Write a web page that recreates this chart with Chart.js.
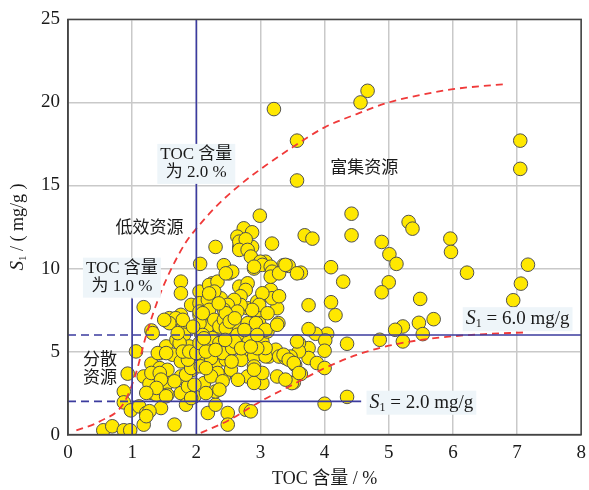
<!DOCTYPE html>
<html>
<head>
<meta charset="utf-8">
<script src="https://cdn.jsdelivr.net/npm/chart.js@4.4.1/dist/chart.umd.min.js"></script>
<style>
  body { margin: 0; background: #fff; }
</style>
</head>
<body>
<canvas id="myChart" width="589" height="490"></canvas>
<script>
// sample values: TOC (%) and S1 (mg/g)
var tocValues = [
  3.21,3.57,3.57,4.56,4.67,7.05,7.05,4.42,4.42,3.69,
  3.81,5.31,5.37,4.89,5.96,5.97,5.01,5.12,4.10,3.63,
  6.22,7.17,7.06,6.94,4.29,5.00,4.89,5.49,4.10,3.75,
  4.17,5.70,5.47,5.22,5.10,5.53,4.86,5.22,4.35,4.04,
  3.86,3.75,4.01,4.00,3.75,3.75,3.60,3.60,3.88,4.00,
  3.63,3.52,4.35,4.00,3.44,
  0.55,0.69,0.87,0.97,0.87,0.87,0.93,0.98,1.06,1.18,
  1.30,1.18,1.11,1.18,1.22,1.30,1.31,1.38,1.27,1.43,
  1.43,1.43,1.45,1.53,1.55,1.55,1.55,1.55,1.63,1.66,
  1.63,1.69,1.76,1.76,1.76,1.79,1.81,1.76,1.76,1.76,
  1.84,1.87,1.89,1.92,1.94,1.97,2.05,2.06,2.07,2.05,
  2.05,2.12,2.18,2.20,2.23,2.25,2.25,2.30,2.30,2.30,
  2.30,2.30,2.38,2.43,2.49,2.49,2.43,2.51,2.54,2.56,
  2.62,2.67,2.67,2.74,2.77,2.80,2.80,2.80,2.82,2.85,
  2.87,2.90,2.90,2.90,2.93,2.95,2.98,3.03,3.03,3.05,
  3.08,3.11,3.13,3.16,3.18,3.18,3.24,3.26,3.28,3.29,
  3.26,3.36,3.39,3.47,3.49,3.57,3.57,3.54,
  2.20,2.33,2.28,2.05,2.18,2.05,2.20,1.58,1.68,2.99,
  2.74,2.87,2.64,2.67,2.77,2.67,2.80,2.85,3.00,3.03,
  2.90,3.16,3.18,3.16,3.29,3.39,3.18,3.29,3.03,2.77,
  2.69,2.56,2.46,2.98,2.87,2.69,2.59,2.49,2.64,2.43,
  1.58,1.50,1.32,1.40,1.53,1.74,1.71,1.79,1.30,1.43,
  1.66,1.45,1.38,1.22,1.53,1.27,1.22,1.84,1.92,1.87,
  1.79,1.89,2.00,2.07,1.97,1.92,2.15,2.05,2.07,2.17,
  2.05,2.28,2.36,2.25,2.36,2.23,2.33,2.23,2.41,2.46,
  2.41,2.43,2.10,
  2.46,2.46,2.64,2.80,2.93,3.08,3.26,3.11,2.56,3.08,
  3.08,3.36,3.44,3.52,2.54,2.90,3.03,2.90,3.39,3.60,
  2.36,
  2.15,2.60,2.70,2.52,2.35,2.60,2.75,2.15,2.55,2.65,
  2.95,2.20,2.10,2.70,1.95,2.30,2.85,2.45,2.12,2.95
];
var s1Values = [
  19.6,17.7,15.3,20.0,20.7,17.7,16.0,13.3,12.0,12.0,
  11.8,12.8,12.4,11.6,11.8,11.0,10.86,10.28,10.08,9.75,
  9.75,10.23,9.09,8.09,9.21,9.17,8.57,8.17,7.97,7.79,
  7.19,6.95,6.73,6.51,6.31,6.05,5.71,5.61,5.47,6.07,
  6.07,6.35,5.67,5.05,5.21,4.61,5.51,5.01,4.31,4.01,
  3.65,3.14,2.27,1.86,10.16,
  0.26,0.50,0.26,0.26,2.60,1.94,3.67,1.46,5.01,7.67,
  6.27,3.50,1.70,0.60,1.30,4.27,2.50,2.40,3.06,3.50,
  4.00,4.90,1.60,5.31,3.90,3.10,2.40,6.81,6.71,0.60,
  4.81,5.71,9.21,8.51,7.21,6.41,6.01,4.41,3.50,2.50,
  1.80,2.90,5.31,7.81,3.90,2.30,8.61,10.28,4.70,6.31,
  7.21,3.10,1.30,5.41,6.91,8.01,9.11,11.30,1.80,2.60,
  4.20,5.90,8.21,10.20,1.30,0.60,3.50,9.71,5.11,7.41,
  6.41,8.91,11.30,5.01,1.50,9.11,7.61,3.50,5.71,1.40,
  11.30,4.70,4.10,10.00,7.31,8.01,6.71,3.10,5.61,8.41,
  10.41,6.21,4.70,8.71,9.61,11.50,5.11,7.61,6.71,4.70,
  3.50,10.20,4.61,4.70,3.10,9.71,5.61,4.20,
  9.01,9.21,8.61,7.91,8.11,7.41,7.51,7.01,7.01,13.18,
  12.42,12.18,11.92,11.62,11.76,11.12,11.12,10.72,10.41,10.22,
  10.11,10.11,9.81,9.51,9.71,10.22,8.21,8.33,8.51,8.71,
  8.33,9.81,9.71,7.81,7.51,7.81,8.11,7.81,7.41,7.51,
  6.71,6.91,6.11,4.91,4.91,5.51,6.11,6.91,3.71,3.71,
  3.21,3.31,2.81,2.51,2.31,1.41,1.11,3.61,4.01,4.51,
  5.00,5.00,4.91,4.11,3.00,2.20,2.50,5.51,6.11,6.51,
  6.71,6.91,6.51,5.81,5.51,4.61,3.71,3.51,3.21,4.51,
  4.91,6.91,7.31,
  7.31,6.41,6.01,6.71,6.71,6.31,6.61,7.31,5.21,4.71,
  5.21,4.81,4.51,4.31,3.91,3.11,3.71,3.91,3.31,3.71,
  2.71,
  5.00,5.60,4.50,6.80,7.90,7.00,6.30,4.00,4.40,3.30,
  5.20,8.50,6.00,5.20,6.50,5.10,5.30,5.70,5.80,6.00
];

// red dashed boundary curves
var upperCurveX = [0.13,0.5,0.87,1.06,1.22,1.43,1.6,1.84,2.0,2.3,2.67,3.08,3.5,4.0,4.5,5.0,5.5,6.0,6.8];
var upperCurveY = [0.25,0.8,1.9,3.7,6.0,8.4,9.9,11.6,12.4,13.7,15.0,16.2,17.3,18.5,19.3,20.0,20.45,20.8,21.1];
var lowerCurveX = [2.07,2.5,3.0,3.5,4.0,4.5,5.0,5.5,6.0,6.5,7.1];
var lowerCurveY = [0.1,0.85,2.0,3.0,4.0,4.8,5.35,5.7,5.92,6.05,6.15];

// cut-off values
var tocLimits = [1.0, 2.0];
var s1Limits = [2.0, 6.0];

var serif = '"Liberation Serif", "Noto Sans CJK SC", serif';
var blue = '#3b3b9e';

function pairs(xs, ys) {
  return xs.map(function(x, i) { return {x: x, y: ys[i]}; });
}

function lineSet(points, color, dash, width) {
  return {
    data: points,
    showLine: true,
    borderColor: color,
    borderWidth: width,
    borderDash: dash,
    pointRadius: 0,
    fill: false
  };
}

var upper = lineSet(pairs(upperCurveX, upperCurveY), '#f03a3a', [7, 5], 1.8);
upper.cubicInterpolationMode = 'monotone';
var lower = lineSet(pairs(lowerCurveX, lowerCurveY), '#f03a3a', [7, 5], 1.8);
lower.cubicInterpolationMode = 'monotone';

var datasets = [
  lineSet([{x: tocLimits[1], y: 0}, {x: tocLimits[1], y: 25}], blue, [], 1.6),
  lineSet([{x: tocLimits[0], y: 0}, {x: tocLimits[0], y: 8.2}], blue, [], 1.6),
  lineSet([{x: 0, y: s1Limits[1]}, {x: tocLimits[1], y: s1Limits[1]}], blue, [8, 5], 1.6),
  lineSet([{x: tocLimits[1], y: s1Limits[1]}, {x: 8, y: s1Limits[1]}], blue, [], 1.6),
  lineSet([{x: 0, y: s1Limits[0]}, {x: tocLimits[0], y: s1Limits[0]}], blue, [8, 5], 1.6),
  lineSet([{x: tocLimits[0], y: s1Limits[0]}, {x: 4.57, y: s1Limits[0]}], blue, [], 1.6),
  upper,
  lower,
  {
    data: pairs(tocValues, s1Values),
    pointRadius: 6.8,
    pointBackgroundColor: '#ffe800',
    pointBorderColor: '#505050',
    pointBorderWidth: 1
  }
];

// text notes placed in data units
var notes = [
  {lines: ['TOC 含量', '为 2.0 %'], x: 2.0, y: 16.3, box: true},
  {lines: ['低效资源'], x: 1.27, y: 12.4},
  {lines: ['TOC 含量', '为 1.0 %'], x: 0.84, y: 9.45, box: true},
  {lines: ['分散', '资源'], x: 0.5, y: 3.9},
  {lines: ['富集资源'], x: 4.62, y: 16.0}
];
var sLabels = [
  {value: '6.0', x: 6.2, y: 6.95},
  {value: '2.0', x: 4.7, y: 1.92}
];

// S1 with italic S and subscript 1, returns width
function drawS1(ctx, x, y, rest, size, measureOnly) {
  ctx.font = 'italic ' + (size + 1) + 'px ' + serif;
  var w1 = ctx.measureText('S').width;
  ctx.font = Math.round(size * 0.62) + 'px ' + serif;
  var w2 = ctx.measureText('1').width;
  ctx.font = size + 'px ' + serif;
  var w3 = ctx.measureText(rest).width;
  if (!measureOnly) {
    ctx.textBaseline = 'middle';
    ctx.textAlign = 'left';
    ctx.font = 'italic ' + (size + 1) + 'px ' + serif;
    ctx.fillText('S', x, y);
    ctx.font = Math.round(size * 0.62) + 'px ' + serif;
    ctx.fillText('1', x + w1, y + 5);
    ctx.font = size + 'px ' + serif;
    ctx.fillText(rest, x + w1 + w2, y);
  }
  return w1 + w2 + w3;
}

var notesPlugin = {
  id: 'notes',
  afterDraw: function(chart) {
    var ctx = chart.ctx, xs = chart.scales.x, ys = chart.scales.y, area = chart.chartArea;
    ctx.save();
    ctx.fillStyle = '#1a1a1a';

    notes.forEach(function(n) {
      var cx = xs.getPixelForValue(n.x), cy = ys.getPixelForValue(n.y);
      var lh = 18;
      ctx.font = '17px ' + serif;
      var w = Math.max.apply(null, n.lines.map(function(t) { return ctx.measureText(t).width; }));
      var top = cy - lh * n.lines.length / 2;
      if (n.box) {
        ctx.fillStyle = '#eef5f9';
        ctx.fillRect(cx - w / 2 - 3, top - 2, w + 6, lh * n.lines.length + 4);
        ctx.fillStyle = '#1a1a1a';
      }
      ctx.textAlign = 'center';
      ctx.textBaseline = 'middle';
      n.lines.forEach(function(t, i) {
        ctx.fillText(t, cx, top + lh * i + lh / 2);
      });
    });

    sLabels.forEach(function(s) {
      var px = xs.getPixelForValue(s.x), py = ys.getPixelForValue(s.y);
      var rest = ' = ' + s.value + ' mg/g';
      var w = drawS1(ctx, px, py, rest, 19, true);
      ctx.fillStyle = '#eef5f9';
      ctx.fillRect(px - 3, py - 12, w + 6, 24);
      ctx.fillStyle = '#1a1a1a';
      drawS1(ctx, px, py, rest, 19, false);
    });

    // frame on top and right
    ctx.strokeStyle = '#444';
    ctx.lineWidth = 1.5;
    ctx.strokeRect(area.left, area.top, area.right - area.left, area.bottom - area.top);

    // y title, rotated
    ctx.translate(18, (area.top + area.bottom) / 2);
    ctx.rotate(-Math.PI / 2);
    var rest = ' / ( mg/g )';
    var tw = drawS1(ctx, 0, 0, rest, 18, true);
    drawS1(ctx, -tw / 2, 0, rest, 18, false);
    ctx.restore();
  }
};

var tickFont = {family: serif, size: 19};

new Chart('myChart', {
  type: 'scatter',
  data: {datasets: datasets},
  options: {
    responsive: false,
    animation: false,
    layout: {padding: {left: 33, right: 0, top: 10, bottom: 0}},
    plugins: {legend: {display: false}, tooltip: {enabled: false}},
    scales: {
      x: {
        min: 0, max: 8,
        afterFit: function(scale) { scale.paddingRight = 0; scale.height -= 3; },
        ticks: {stepSize: 1, font: tickFont, color: '#1a1a1a', padding: 7},
        grid: {color: '#c9c9c9', lineWidth: 1.5, drawTicks: false},
        border: {color: '#444', width: 1.5},
        title: {display: true, text: 'TOC 含量 / %', font: {family: serif, size: 18}, color: '#1a1a1a', padding: {top: 0, bottom: 0}}
      },
      y: {
        min: 0, max: 25,
        ticks: {stepSize: 5, font: tickFont, color: '#1a1a1a', padding: 8},
        grid: {color: '#c9c9c9', lineWidth: 1.5, drawTicks: false},
        border: {color: '#444', width: 1.5}
      }
    }
  },
  plugins: [notesPlugin]
});
</script>
</body>
</html>
